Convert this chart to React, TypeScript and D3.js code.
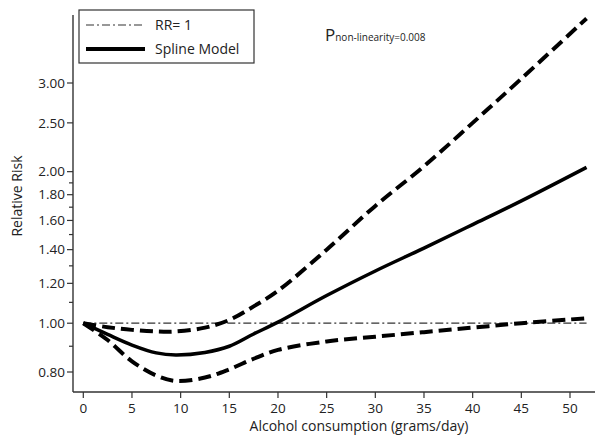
import React, { useEffect, useRef } from 'react';
import * as d3 from 'd3';

// alcohol dose points (grams/day)
const doses = [0, 2.5, 5, 7.5, 9.5, 12.5, 15, 17.5, 20, 25, 30, 35, 40, 45, 51.7];
// relative risk from the spline model
const splineRR = [1.0, 0.95, 0.905, 0.873, 0.865, 0.875, 0.9, 0.952, 1.005, 1.135, 1.27, 1.41, 1.57, 1.75, 2.04];
// 95% CI bounds
const upperCI = [1.0, 0.982, 0.97, 0.963, 0.963, 0.98, 1.015, 1.08, 1.16, 1.4, 1.71, 2.05, 2.5, 3.06, 4.03];
const lowerCI = [1.0, 0.926, 0.84, 0.787, 0.768, 0.78, 0.81, 0.85, 0.885, 0.92, 0.94, 0.96, 0.98, 1.0, 1.023];

const xTicks = [0, 5, 10, 15, 20, 25, 30, 35, 40, 45, 50];
const yMajor = [0.8, 1.0, 1.2, 1.4, 1.6, 1.8, 2.0, 2.5, 3.0];
const yMinor = [0.9, 1.1, 1.3, 1.5, 1.7, 1.9];

const W = 595;
const H = 437;
const FONT = '"Open Sans", "DejaVu Sans", sans-serif';

export default function App() {
  const svgRef = useRef<SVGSVGElement>(null);

  useEffect(() => {
    const svg = d3.select(svgRef.current);
    svg.selectAll('*').remove();

    const axisX = 73;
    const axisY = 392;
    const x = d3.scaleLinear().domain([0, 50]).range([83.3, 570]);
    const y = d3.scaleLog().domain([0.8, 3.0]).range([372, 83]);

    const axisColor = '#333';

    // y axis
    svg.append('line')
      .attr('x1', axisX).attr('x2', axisX)
      .attr('y1', 15).attr('y2', axisY)
      .attr('stroke', axisColor).attr('stroke-width', 1.4);
    yMajor.forEach(v => {
      svg.append('line')
        .attr('x1', axisX - 6).attr('x2', axisX)
        .attr('y1', y(v)).attr('y2', y(v))
        .attr('stroke', axisColor).attr('stroke-width', 1.2);
      svg.append('text')
        .attr('x', axisX - 8).attr('y', y(v))
        .attr('dy', '0.35em')
        .attr('text-anchor', 'end')
        .style('font-family', FONT).style('font-size', '13.5px')
        .attr('fill', '#222')
        .text(v.toFixed(2));
    });
    yMinor.forEach(v => {
      svg.append('line')
        .attr('x1', axisX - 4).attr('x2', axisX)
        .attr('y1', y(v)).attr('y2', y(v))
        .attr('stroke', axisColor).attr('stroke-width', 1.2);
    });
    svg.append('text')
      .attr('transform', `translate(22,196) rotate(-90)`)
      .attr('text-anchor', 'middle')
      .style('font-family', FONT).style('font-size', '14px')
      .attr('fill', '#222')
      .text('Relative Risk');

    // x axis
    svg.append('line')
      .attr('x1', axisX).attr('x2', W)
      .attr('y1', axisY).attr('y2', axisY)
      .attr('stroke', axisColor).attr('stroke-width', 1.4);
    xTicks.forEach(v => {
      svg.append('line')
        .attr('x1', x(v)).attr('x2', x(v))
        .attr('y1', axisY).attr('y2', axisY + 6)
        .attr('stroke', axisColor).attr('stroke-width', 1.2);
      svg.append('text')
        .attr('x', x(v)).attr('y', 413)
        .attr('text-anchor', 'middle')
        .style('font-family', FONT).style('font-size', '13.5px')
        .attr('fill', '#222')
        .text(v);
    });
    svg.append('text')
      .attr('x', 359).attr('y', 431)
      .attr('text-anchor', 'middle')
      .style('font-family', FONT).style('font-size', '14px')
      .attr('fill', '#222')
      .text('Alcohol consumption (grams/day)');

    // RR = 1 reference
    svg.append('line')
      .attr('x1', x(0)).attr('x2', x(51.7))
      .attr('y1', y(1)).attr('y2', y(1))
      .attr('stroke', '#333').attr('stroke-width', 1.2)
      .attr('stroke-dasharray', '8 3 2 3');

    const line = (vals: number[]) => d3.line<number>()
      .x((_, i) => x(doses[i]))
      .y(d => y(d))
      .curve(d3.curveCatmullRom.alpha(0.5))(vals);

    [upperCI, lowerCI].forEach(vals => {
      svg.append('path')
        .attr('d', line(vals))
        .attr('fill', 'none')
        .attr('stroke', '#000').attr('stroke-width', 4)
        .attr('stroke-dasharray', '13 6');
    });
    svg.append('path')
      .attr('d', line(splineRR))
      .attr('fill', 'none')
      .attr('stroke', '#000').attr('stroke-width', 3.5);

    // legend
    const lg = svg.append('g');
    lg.append('rect')
      .attr('x', 79).attr('y', 10).attr('width', 175).attr('height', 53)
      .attr('fill', '#fff').attr('stroke', '#333').attr('stroke-width', 1.2);
    lg.append('line')
      .attr('x1', 86).attr('x2', 145).attr('y1', 25).attr('y2', 25)
      .attr('stroke', '#333').attr('stroke-width', 1.2)
      .attr('stroke-dasharray', '8 3 2 3');
    lg.append('line')
      .attr('x1', 86).attr('x2', 145).attr('y1', 49).attr('y2', 49)
      .attr('stroke', '#000').attr('stroke-width', 4);
    lg.append('text')
      .attr('x', 155).attr('y', 30)
      .style('font-family', FONT).style('font-size', '14px')
      .attr('fill', '#222')
      .text('RR= 1');
    lg.append('text')
      .attr('x', 155).attr('y', 54)
      .style('font-family', FONT).style('font-size', '14px')
      .attr('fill', '#222')
      .text('Spline Model');

    // p for non-linearity
    const pt = svg.append('text')
      .attr('x', 325).attr('y', 41)
      .style('font-family', FONT)
      .attr('fill', '#222');
    pt.append('tspan').style('font-size', '17px').text('P');
    pt.append('tspan').style('font-size', '10px').text('non-linearity=0.008');
  }, []);

  return (
    <svg
      ref={svgRef}
      width={W}
      height={H}
      style={{ position: 'absolute', left: 0, top: 0, background: '#fff' }}
    />
  );
}
